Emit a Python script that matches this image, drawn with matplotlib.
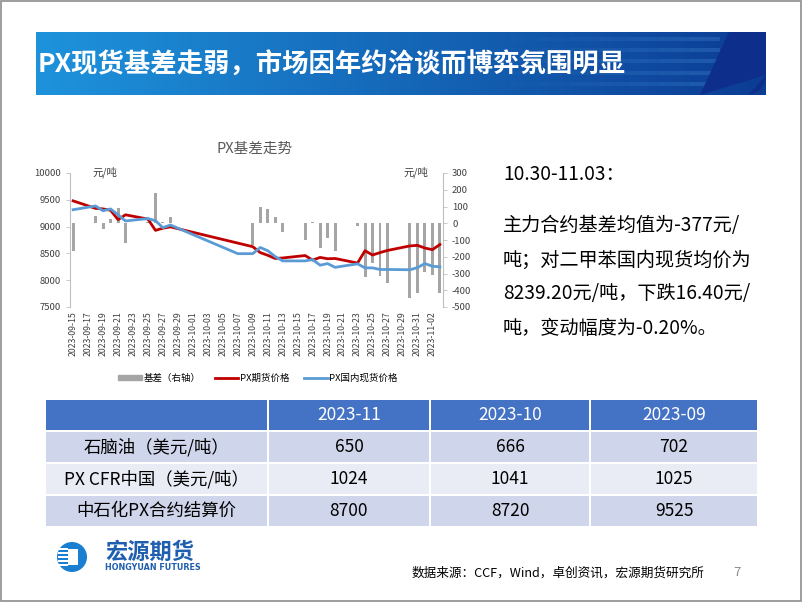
import numpy as np
import pandas as pd
import matplotlib.pyplot as plt
import matplotlib.dates as mdates
from matplotlib.patches import Rectangle, Circle, Polygon, Patch
from matplotlib.lines import Line2D

plt.rcParams['font.family'] = ['Noto Sans CJK SC', 'DejaVu Sans']
plt.rcParams['axes.unicode_minus'] = False

# 期货交易日 / 基差
fut_dates = ['2023-09-15', '2023-09-18', '2023-09-19', '2023-09-20', '2023-09-21', '2023-09-22',
             '2023-09-25', '2023-09-26', '2023-09-27', '2023-09-28',
             '2023-10-09', '2023-10-10', '2023-10-11', '2023-10-12', '2023-10-13',
             '2023-10-16', '2023-10-17', '2023-10-18', '2023-10-19', '2023-10-20',
             '2023-10-23', '2023-10-24', '2023-10-25', '2023-10-26', '2023-10-27',
             '2023-10-30', '2023-10-31', '2023-11-01', '2023-11-02', '2023-11-03']
fut_price = [9480, 9340, 9330, 9305, 9130, 9220, 9140, 8930, 8970, 8995,
             8625, 8515, 8465, 8405, 8415, 8460, 8375, 8425, 8400, 8405,
             8320, 8550, 8470, 8515, 8555, 8640, 8650, 8600, 8570, 8665]
basis = [-165, 45, -35, 25, 90, -115, 10, 180, 5, 35,
         -130, 95, 85, 35, -55, -100, 10, -145, -90, -165,
         -15, -320, -240, -315, -355, -445, -415, -290, -310, -415]

# 现货
spot_dates = ['2023-09-15', '2023-09-18', '2023-09-19', '2023-09-20', '2023-09-21', '2023-09-22',
              '2023-09-25', '2023-09-26', '2023-09-27', '2023-09-28', '2023-10-07', '2023-10-08',
              '2023-10-09', '2023-10-10', '2023-10-11', '2023-10-12', '2023-10-13',
              '2023-10-16', '2023-10-17', '2023-10-18', '2023-10-19', '2023-10-20',
              '2023-10-23', '2023-10-24', '2023-10-25', '2023-10-26', '2023-10-27',
              '2023-10-30', '2023-10-31', '2023-11-01', '2023-11-02', '2023-11-03']
spot_price = [9315, 9385, 9295, 9330, 9220, 9105, 9150, 9110, 8980, 9030, 8495, 8495,
              8495, 8610, 8550, 8440, 8360, 8360, 8385, 8280, 8310, 8240,
              8305, 8230, 8230, 8200, 8200, 8195, 8235, 8310, 8260, 8250]

# 表格
col_names = ['2023-11', '2023-10', '2023-09']
row_names = ['石脑油（美元/吨）', 'PX CFR中国（美元/吨）', '中石化PX合约结算价']
table_vals = [['650', '666', '702'],
              ['1024', '1041', '1025'],
              ['8700', '8720', '9525']]

title = 'PX现货基差走弱，市场因年约洽谈而博弈氛围明显'
note_lines = ['10.30-11.03：', '主力合约基差均值为-377元/', '吨；对二甲苯国内现货均价为',
              '8239.20元/吨，下跌16.40元/', '吨，变动幅度为-0.20%。']

fd = pd.to_datetime(fut_dates)
sd = pd.to_datetime(spot_dates)

W, H = 802, 602
fig = plt.figure(figsize=(W / 100, H / 100), dpi=100)
bg = fig.add_axes([0, 0, 1, 1])
bg.set_xlim(0, W)
bg.set_ylim(H, 0)
bg.axis('off')

# 边框
bg.add_patch(Rectangle((0.5, 0.5), W - 1.5, H - 1.5, fill=False, ec='#8c8c8c', lw=1.2))

# 标题栏 渐变
grad = np.linspace(0, 1, 400)
c1 = np.array([0x1e, 0x93, 0xdc]) / 255
c2 = np.array([0x0c, 0x3c, 0x94]) / 255
img = np.array([c1 * (1 - t) + c2 * t for t in grad])[None, :, :]
bg.imshow(img, extent=(36, 766, 95, 32), aspect='auto', zorder=1)
for k, yy in enumerate([37, 48, 59, 71, 82]):
    for j in range(8):
        x0 = 480 + j * 30
        bg.add_patch(Rectangle((x0, yy), 30, 4, color='#3c82cc', alpha=0.05 * j, lw=0, zorder=2))
arc_t = np.linspace(0, np.pi / 2, 12)
arc = [(746 + 20 * np.sin(t), 75 + 20 * np.cos(t)) for t in arc_t][::-1]
poly = [(729, 32), (766, 32)] + [(766, 75)] + arc[::-1][1:] + [(700, 95)]
bg.add_patch(Polygon(poly, closed=True, color='#0d2e8a', lw=0, zorder=3))
bg.text(38, 65, title, color='white', fontsize=19, fontweight='bold', va='center', ha='left', zorder=4)

# 右侧文字
for s, yy in zip(note_lines, [175, 226, 260, 294, 328]):
    bg.text(503, yy, s, fontsize=13.8, va='center', ha='left', color='black')

# 表格
xs = [45, 268, 430, 590, 758]
ys = [399, 431, 463, 495, 527]
fills = ['#4472c4', '#cfd5ea', '#e9ebf5', '#cfd5ea']
for r in range(4):
    for c in range(4):
        bg.add_patch(Rectangle((xs[c] + 1, ys[r] + 1), xs[c + 1] - xs[c] - 2, ys[r + 1] - ys[r] - 2,
                               color=fills[r], lw=0))
for c, name in enumerate(col_names):
    bg.text((xs[c + 1] + xs[c + 2]) / 2, (ys[0] + ys[1]) / 2, name, color='white',
            fontsize=12.5, ha='center', va='center')
for r, name in enumerate(row_names):
    yc = (ys[r + 1] + ys[r + 2]) / 2
    bg.text((xs[0] + xs[1]) / 2, yc, name, fontsize=12.5, ha='center', va='center')
    for c in range(3):
        bg.text((xs[c + 1] + xs[c + 2]) / 2, yc, table_vals[r][c], fontsize=12.5,
                ha='center', va='center')

# logo
bg.add_patch(Circle((72, 557), 15, color='#1a7fd0', lw=0))
for yy in [549, 553, 557, 561, 565]:
    bg.add_patch(Rectangle((58, yy - 1), 10, 2, color='white', lw=0))
bg.add_patch(Rectangle((68, 549), 10, 16, color='white', lw=0))
bg.text(105, 552, '宏源期货', color='#1f5fb0', fontsize=16, fontweight='bold', va='center', ha='left')
bg.text(105, 567, 'HONGYUAN FUTURES', color='#1f5fb0', fontsize=5.8, fontweight='bold',
        va='center', ha='left', family='DejaVu Sans')

bg.text(412, 573, '数据来源：CCF，Wind，卓创资讯，宏源期货研究所', fontsize=9.1, va='center', ha='left')
bg.text(733, 573, '7', fontsize=9.5, va='center', ha='left', color='#8c8c8c')

# 图表
ax = fig.add_axes([70 / W, 1 - 307 / H, (443 - 70) / W, (307 - 173) / H])
ax2 = ax.twinx()
ax.set_zorder(ax2.get_zorder() + 1)
ax.patch.set_visible(False)
ax2.patch.set_visible(False)

ax2.bar(fd, basis, width=0.4, color='#a5a5a5', zorder=1)
ax.plot(fd, fut_price, color='#c00000', lw=2.0, zorder=3)
ax.plot(sd, spot_price, color='#5b9bd5', lw=2.0, zorder=4)

x0 = pd.Timestamp('2023-09-15') - pd.Timedelta(hours=10)
x1 = pd.Timestamp('2023-11-03') + pd.Timedelta(hours=10)
ax.set_xlim(x0, x1)
ax.set_ylim(7500, 10000)
ax.set_yticks(np.arange(7500, 10001, 500))
ax2.set_ylim(-500, 300)
ax2.set_yticks(np.arange(-500, 301, 100))

ticks = pd.date_range('2023-09-15', '2023-11-03', freq='2D')
ax.set_xticks(ticks)
ax.set_xticklabels([t.strftime('%Y-%m-%d') for t in ticks], rotation=90, fontsize=6.3, color='#404040')
ax.tick_params(axis='x', length=0, pad=3)
ax.tick_params(axis='y', labelsize=6.8, colors='#404040', length=3, width=0.6, color='#bfbfbf')
ax2.tick_params(axis='y', labelsize=6.8, colors='#404040', length=3, width=0.6, color='#bfbfbf')

for a in (ax, ax2):
    for sp in ['top', 'bottom']:
        a.spines[sp].set_visible(False)
ax.spines['right'].set_visible(False)
ax2.spines['left'].set_visible(False)
ax.spines['left'].set_color('#bfbfbf')
ax2.spines['right'].set_color('#bfbfbf')

bg.text(255, 149, 'PX基差走势', fontsize=10.5, color='#595959', ha='center', va='center')
bg.text(92, 172, '元/吨', fontsize=7.5, color='#404040', ha='left', va='center')
bg.text(403, 172, '元/吨', fontsize=7.5, color='#404040', ha='left', va='center')

handles = [Patch(color='#a5a5a5'),
           Line2D([0], [0], color='#c00000', lw=2),
           Line2D([0], [0], color='#5b9bd5', lw=2)]
fig.legend(handles, ['基差（右轴）', 'PX期货价格', 'PX国内现货价格'], ncol=3, frameon=False,
           loc='center', bbox_to_anchor=(258 / W, 1 - 378 / H), fontsize=6.8,
           handlelength=2.5, handleheight=0.5, columnspacing=1.5, handletextpad=0.2)

fig.savefig('out.png', dpi=100)
